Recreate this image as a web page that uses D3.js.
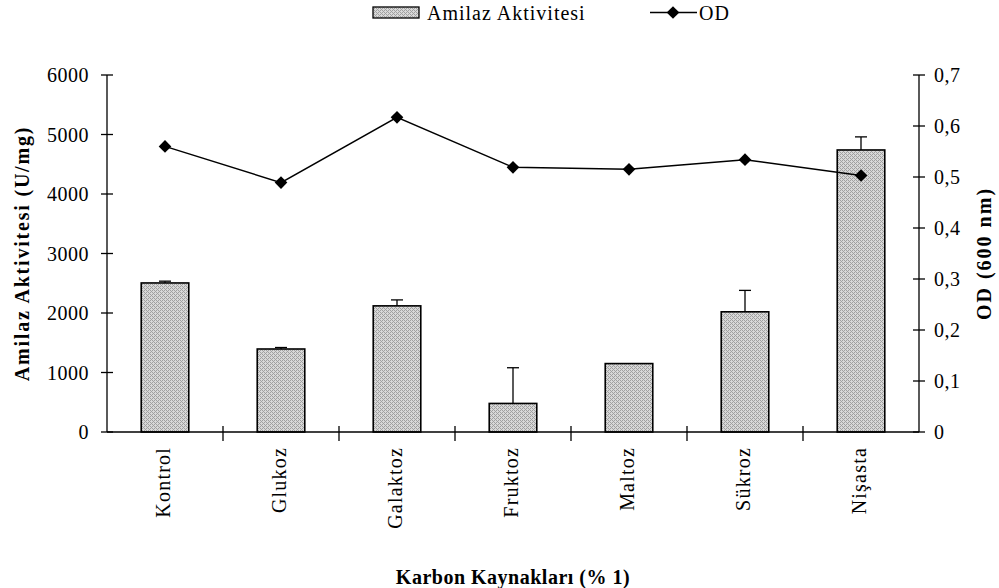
<!DOCTYPE html>
<html><head><meta charset="utf-8">
<script src="https://cdn.jsdelivr.net/npm/d3@7/dist/d3.min.js"></script>
<style>body{margin:0;background:#fff}svg{display:block}text{font-family:"Liberation Serif","Times New Roman",serif;fill:#000}</style>
</head><body>
<svg id="c" width="999" height="588"></svg>
<script>
const categories = ["Kontrol","Glukoz","Galaktoz","Fruktoz","Maltoz","Sükroz","Nişasta"];
const amilaz = [2505, 1395, 2120, 480, 1150, 2020, 4740];
const amilazErr = [30, 25, 100, 600, 0, 360, 220];
const od = [0.560, 0.489, 0.617, 0.519, 0.515, 0.534, 0.503];
const leftTicks = [0,1000,2000,3000,4000,5000,6000];
const rightTicks = [0,0.1,0.2,0.3,0.4,0.5,0.6,0.7];

const svg = d3.select("#c");
const L = 107, R = 919, T = 75, B = 432;
const x = d3.scaleBand().domain(categories).range([L,R]).paddingInner(0.59).paddingOuter(0.295);
const xb = d3.scaleBand().domain(categories).range([L,R]);
const y = d3.scaleLinear().domain([0,6000]).range([B,T]);
const y2 = d3.scaleLinear().domain([0,0.7]).range([B,T]);

const defs = svg.append("defs");
const pat = defs.append("pattern").attr("id","hatch").attr("patternUnits","userSpaceOnUse").attr("width",4).attr("height",4);
pat.append("rect").attr("width",4).attr("height",4).attr("fill","#d8d8d8");
[[0,0],[1,1],[2,2],[3,3],[2,0],[0,2]].forEach(p=>pat.append("rect").attr("x",p[0]).attr("y",p[1]).attr("width",1).attr("height",1).attr("fill","#a0a0a0"));

// bars
svg.append("g").selectAll("rect").data(categories).join("rect")
  .attr("x",d=>x(d)).attr("width",x.bandwidth())
  .attr("y",(d,i)=>y(amilaz[i])).attr("height",(d,i)=>B-y(amilaz[i]))
  .attr("fill","url(#hatch)").attr("stroke","#000").attr("stroke-width",1.6);

// error bars
const eg = svg.append("g").attr("stroke","#000").attr("stroke-width",1.3);
categories.forEach((c,i)=>{
  if(amilazErr[i]<=0) return;
  const cx = x(c)+x.bandwidth()/2;
  eg.append("line").attr("x1",cx).attr("x2",cx).attr("y1",y(amilaz[i])).attr("y2",y(amilaz[i]+amilazErr[i]));
  eg.append("line").attr("x1",cx-6).attr("x2",cx+6).attr("y1",y(amilaz[i]+amilazErr[i])).attr("y2",y(amilaz[i]+amilazErr[i]));
});

// axes
const ax = svg.append("g").attr("stroke","#000").attr("stroke-width",1.3);
ax.append("line").attr("x1",L).attr("x2",L).attr("y1",T).attr("y2",B);
ax.append("line").attr("x1",R).attr("x2",R).attr("y1",T).attr("y2",B);
ax.append("line").attr("x1",L).attr("x2",R).attr("y1",B).attr("y2",B);
leftTicks.forEach(t=>{
  ax.append("line").attr("x1",L-6).attr("x2",L+6).attr("y1",y(t)).attr("y2",y(t));
  svg.append("text").attr("x",L-18).attr("y",y(t)).attr("dy","0.35em").attr("text-anchor","end").attr("font-size",20).attr("letter-spacing",0.5).text(t);
});
rightTicks.forEach(t=>{
  ax.append("line").attr("x1",R-6).attr("x2",R+6).attr("y1",y2(t)).attr("y2",y2(t));
  svg.append("text").attr("x",R+15).attr("y",y2(t)).attr("dy","0.35em").attr("text-anchor","start").attr("font-size",20).attr("letter-spacing",0.5).text(String(t).replace(".",","));
});
categories.forEach((c,i)=>{
  if(i>0) ax.append("line").attr("x1",xb(c)).attr("x2",xb(c)).attr("y1",B-6).attr("y2",B+9);
  const cx = xb(c)+xb.bandwidth()/2;
  svg.append("text").attr("transform",`translate(${cx+5},${B+15}) rotate(-90)`).attr("text-anchor","end").attr("font-size",20).attr("letter-spacing",1.2).text(c);
});

// OD line
svg.append("path").datum(od).attr("fill","none").attr("stroke","#000").attr("stroke-width",1.5)
  .attr("d",d3.line().x((d,i)=>xb(categories[i])+xb.bandwidth()/2).y(d=>y2(d)));
svg.append("g").selectAll("path").data(od).join("path")
  .attr("d",d3.symbol().type(d3.symbolSquare).size(80))
  .attr("transform",(d,i)=>`translate(${xb(categories[i])+xb.bandwidth()/2},${y2(d)}) rotate(45)`)
  .attr("fill","#000");

// titles
svg.append("text").attr("transform",`translate(29,${(T+B)/2}) rotate(-90)`).attr("text-anchor","middle").attr("font-size",20).attr("font-weight","bold").attr("letter-spacing",1.8).text("Amilaz Aktivitesi (U/mg)");
svg.append("text").attr("transform",`translate(991,${(T+B)/2}) rotate(-90)`).attr("text-anchor","middle").attr("font-size",20).attr("font-weight","bold").attr("letter-spacing",2).text("OD (600 nm)");
svg.append("text").attr("x",(L+R)/2).attr("y",584).attr("text-anchor","middle").attr("font-size",20).attr("font-weight","bold").attr("letter-spacing",0.5).text("Karbon Kaynakları (% 1)");

// legend
const lg = svg.append("g");
lg.append("rect").attr("x",373).attr("y",7).attr("width",46).attr("height",11).attr("fill","url(#hatch)").attr("stroke","#000").attr("stroke-width",1.3);
lg.append("text").attr("x",427).attr("y",20).attr("font-size",20).attr("letter-spacing",1).text("Amilaz Aktivitesi");
lg.append("line").attr("x1",650).attr("x2",697).attr("y1",12.5).attr("y2",12.5).attr("stroke","#000").attr("stroke-width",1.5);
lg.append("path").attr("d",d3.symbol().type(d3.symbolSquare).size(80)).attr("transform","translate(673,12.5) rotate(45)").attr("fill","#000");
lg.append("text").attr("x",699).attr("y",20).attr("font-size",20).attr("letter-spacing",1).text("OD");
</script>
</body></html>
